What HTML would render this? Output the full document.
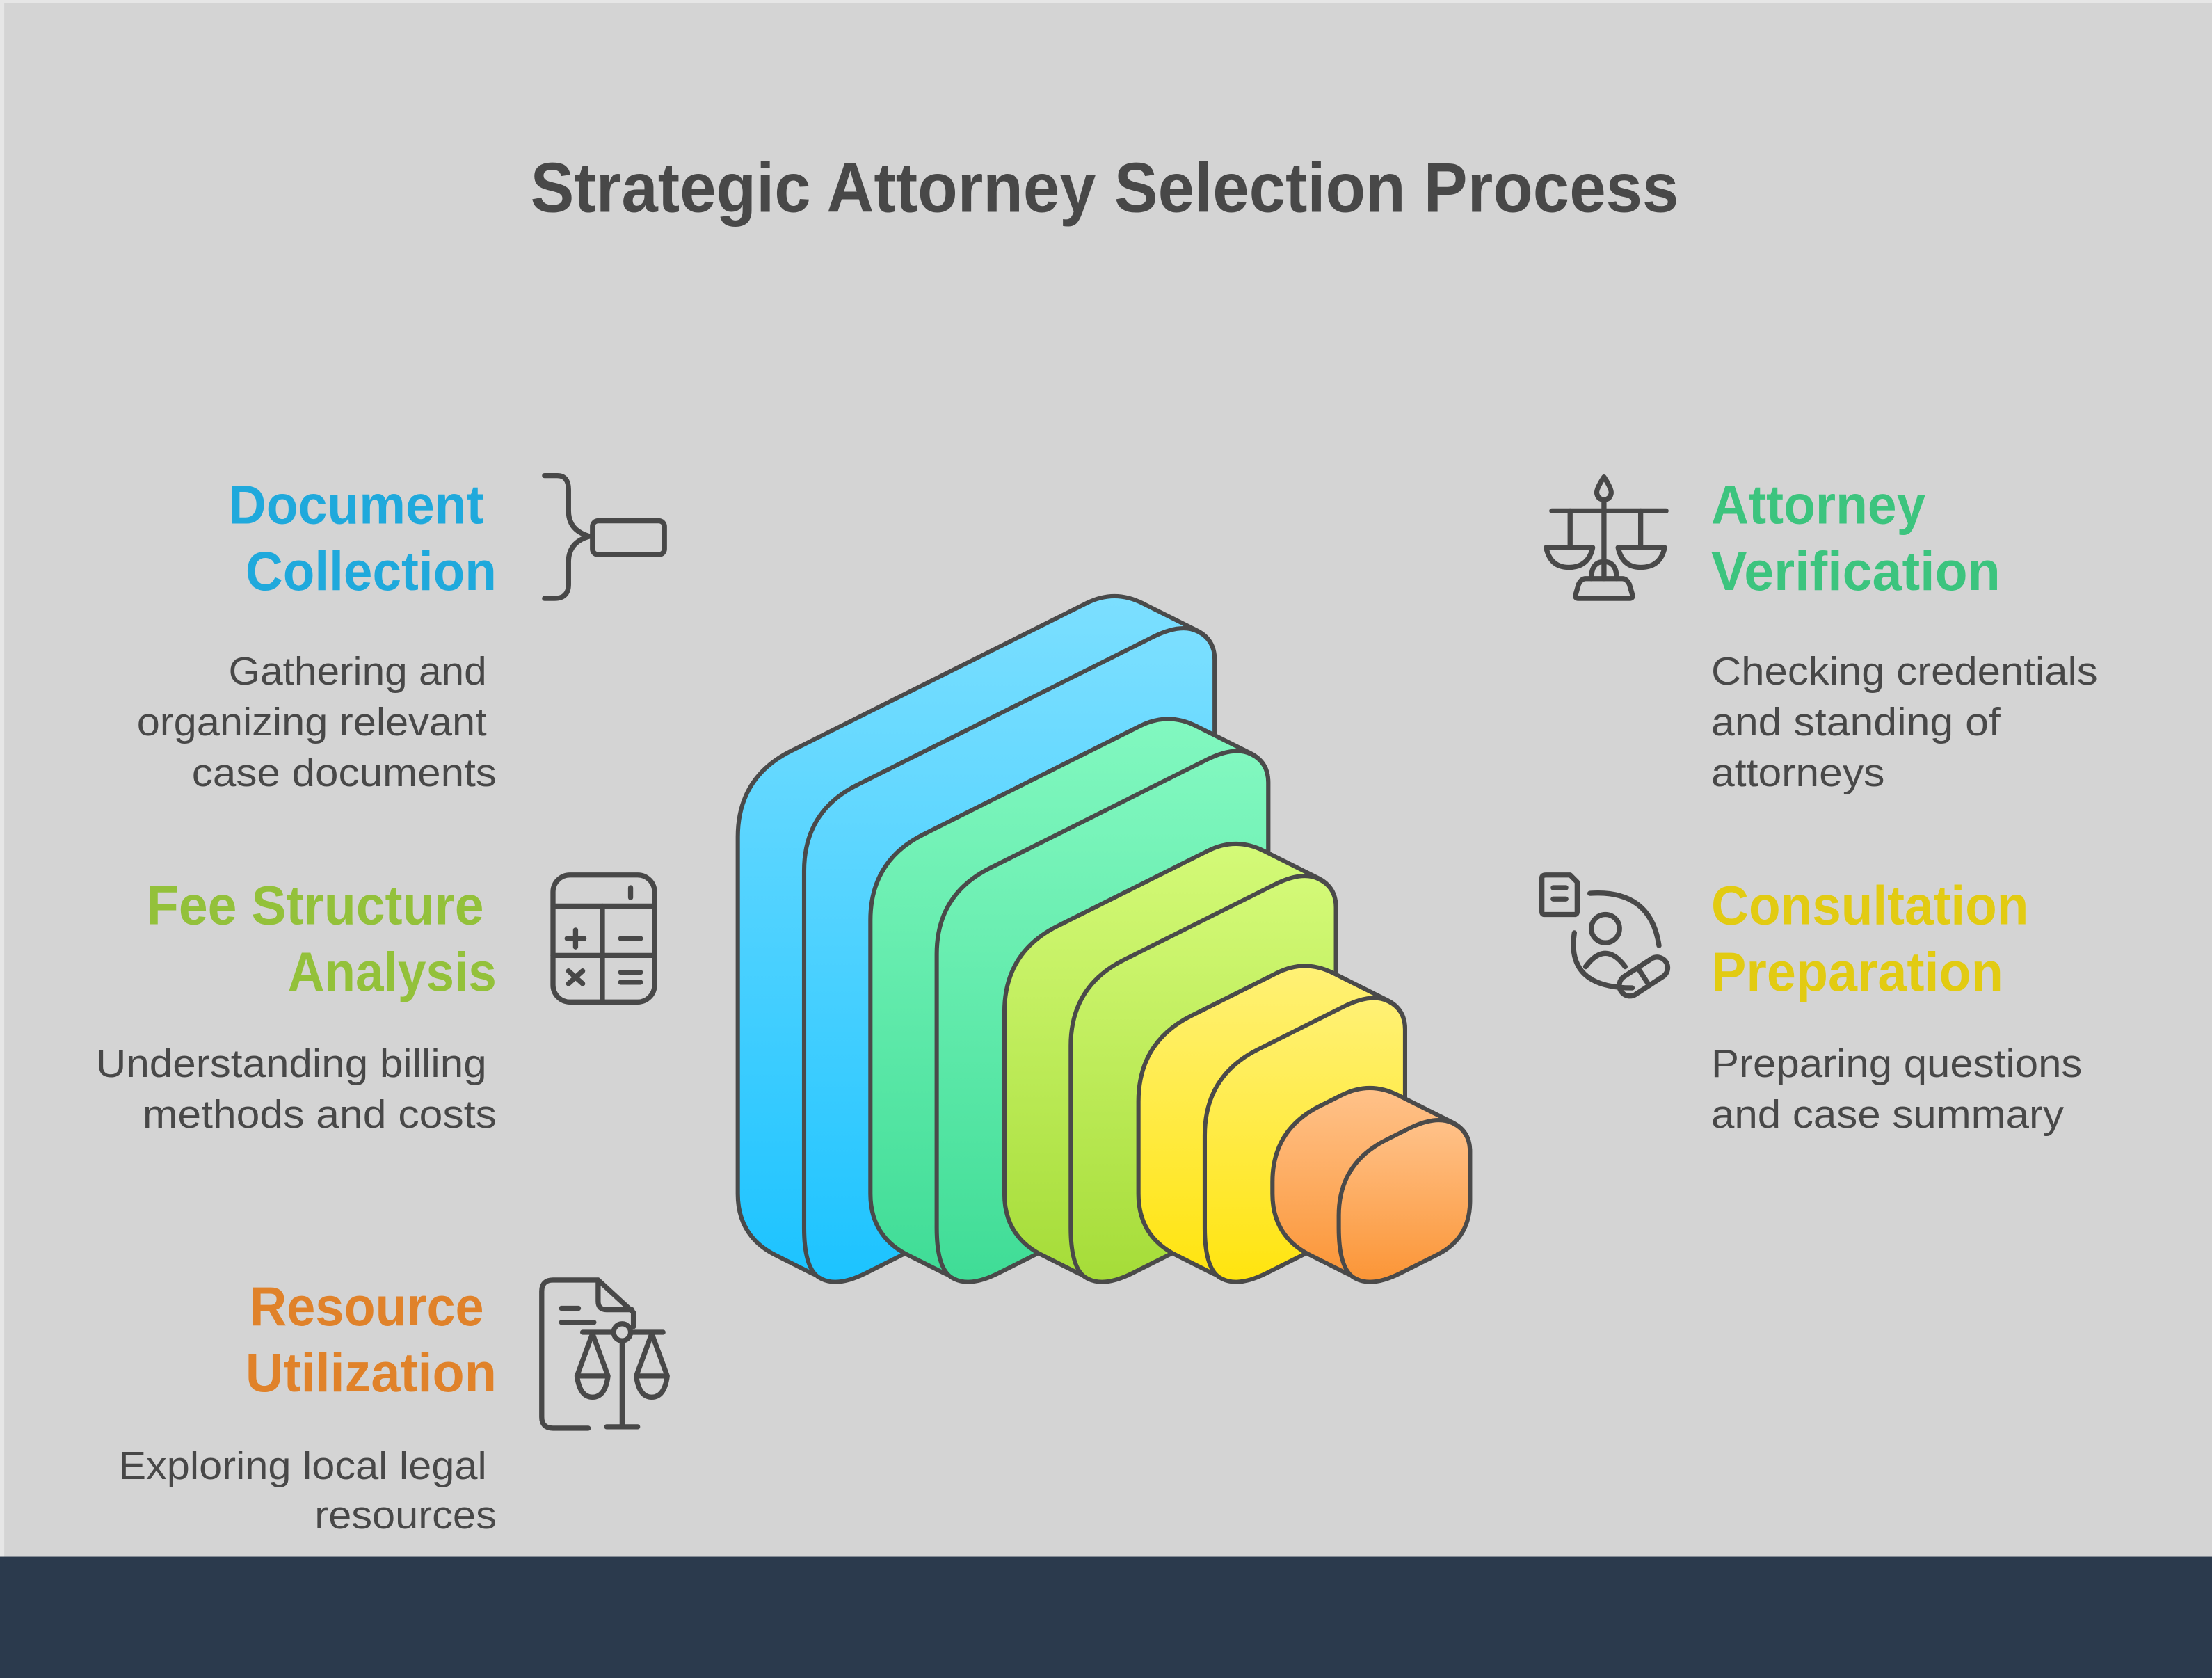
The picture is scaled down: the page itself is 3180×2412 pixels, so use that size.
<!DOCTYPE html>
<html><head><meta charset="utf-8"><style>
html,body{margin:0;padding:0;background:#d4d4d4;}
svg{display:block;}
text{font-family:"Liberation Sans",Arial,sans-serif;}
</style></head><body>
<svg id="s" width="3180" height="2412" viewBox="0 0 1568 1189" preserveAspectRatio="none" xmlns="http://www.w3.org/2000/svg">
<defs>
<linearGradient id="gb" x1="0" y1="0" x2="0" y2="1"><stop offset="0" stop-color="#7cdfff"/><stop offset="1" stop-color="#1cc3ff"/></linearGradient>
<linearGradient id="gg" x1="0" y1="0" x2="0" y2="1"><stop offset="0" stop-color="#82f8c0"/><stop offset="1" stop-color="#3fdc96"/></linearGradient>
<linearGradient id="gl" x1="0" y1="0" x2="0" y2="1"><stop offset="0" stop-color="#d4fa78"/><stop offset="1" stop-color="#a5dc38"/></linearGradient>
<linearGradient id="gy" x1="0" y1="0" x2="0" y2="1"><stop offset="0" stop-color="#fff176"/><stop offset="1" stop-color="#ffe40e"/></linearGradient>
<linearGradient id="go" x1="0" y1="0" x2="0" y2="1"><stop offset="0" stop-color="#ffc28a"/><stop offset="1" stop-color="#fb9536"/></linearGradient>
</defs>
<rect x="0" y="0" width="1568" height="1189" fill="#d4d4d4"/>
<rect x="0" y="0" width="3" height="1103" fill="#e6e6e6"/>
<rect x="0" y="0" width="1568" height="2" fill="#e6e6e6"/>
<rect x="0" y="1103" width="1568" height="86" fill="#2b3a4d"/>

<text x="783" y="150" font-size="50" font-weight="bold" fill="#484848" text-anchor="middle" textLength="814" lengthAdjust="spacingAndGlyphs">Strategic Attorney Selection Process</text>

<g id="blocks" stroke="#4a4a4a" stroke-width="3" stroke-linejoin="round"></g>

<g font-weight="bold" font-size="39" text-anchor="end" lengthAdjust="spacingAndGlyphs">
<text x="343" y="371" fill="#1fa9dc" textLength="181" lengthAdjust="spacingAndGlyphs">Document</text>
<text x="352" y="418" fill="#1fa9dc" textLength="178" lengthAdjust="spacingAndGlyphs">Collection</text>
<text x="343" y="655" fill="#93c13a" textLength="239" lengthAdjust="spacingAndGlyphs">Fee Structure</text>
<text x="352" y="702" fill="#93c13a" textLength="148" lengthAdjust="spacingAndGlyphs">Analysis</text>
<text x="343" y="939" fill="#e0822a" textLength="166" lengthAdjust="spacingAndGlyphs">Resource</text>
<text x="352" y="986" fill="#e0822a" textLength="178" lengthAdjust="spacingAndGlyphs">Utilization</text>
</g>
<g font-weight="bold" font-size="39" text-anchor="start">
<text x="1213" y="371" fill="#3cc47e" textLength="152" lengthAdjust="spacingAndGlyphs">Attorney</text>
<text x="1213" y="418" fill="#3cc47e" textLength="205" lengthAdjust="spacingAndGlyphs">Verification</text>
<text x="1213" y="655" fill="#e2cb12" textLength="225" lengthAdjust="spacingAndGlyphs">Consultation</text>
<text x="1213" y="702" fill="#e2cb12" textLength="207" lengthAdjust="spacingAndGlyphs">Preparation</text>
</g>
<g font-size="28" fill="#484848" text-anchor="end">
<text x="345" y="485" textLength="183" lengthAdjust="spacingAndGlyphs">Gathering and</text>
<text x="345" y="521" textLength="248" lengthAdjust="spacingAndGlyphs">organizing relevant</text>
<text x="352" y="557" textLength="216" lengthAdjust="spacingAndGlyphs">case documents</text>
<text x="345" y="763" textLength="277" lengthAdjust="spacingAndGlyphs">Understanding billing</text>
<text x="352" y="799" textLength="251" lengthAdjust="spacingAndGlyphs">methods and costs</text>
<text x="345" y="1048" textLength="261" lengthAdjust="spacingAndGlyphs">Exploring local legal</text>
<text x="352" y="1083" textLength="129" lengthAdjust="spacingAndGlyphs">resources</text>
</g>
<g font-size="28" fill="#484848" text-anchor="start">
<text x="1213" y="485" textLength="274" lengthAdjust="spacingAndGlyphs">Checking credentials</text>
<text x="1213" y="521" textLength="205" lengthAdjust="spacingAndGlyphs">and standing of</text>
<text x="1213" y="557" textLength="123" lengthAdjust="spacingAndGlyphs">attorneys</text>
<text x="1213" y="763" textLength="263" lengthAdjust="spacingAndGlyphs">Preparing questions</text>
<text x="1213" y="799" textLength="250" lengthAdjust="spacingAndGlyphs">and case summary</text>
</g>

<g fill="none" stroke="#484848" stroke-width="3.6" stroke-linecap="round" stroke-linejoin="round">
<!-- brace icon -->
<path d="M386 337 H395 Q403 337 403 347 V362 Q403 376 418 380 Q403 384 403 398 V414 Q403 424 393 424 H386"/>
<rect x="420" y="369" width="51" height="24" rx="4"/>
<!-- calculator -->
<rect x="392" y="620" width="72" height="90" rx="12"/>
<line x1="392" y1="642" x2="464" y2="642"/>
<line x1="392" y1="677" x2="464" y2="677"/>
<line x1="427" y1="642" x2="427" y2="710"/>
<line x1="447" y1="629" x2="447" y2="636"/>
<line x1="402" y1="665" x2="414" y2="665"/><line x1="408" y1="659" x2="408" y2="671"/>
<line x1="440" y1="665" x2="454" y2="665"/>
<line x1="403" y1="688" x2="413" y2="697"/><line x1="413" y1="688" x2="403" y2="697"/>
<line x1="440" y1="689" x2="454" y2="689"/><line x1="440" y1="696" x2="454" y2="696"/>
<!-- resource: doc + scale -->
<path d="M417 1012 H392 Q384 1012 384 1004 V915 Q384 907 392 907 H424 L449 930 V940"/>
<path d="M424 907 V922 Q424 928 430 928 H448"/>
<line x1="398" y1="927" x2="410" y2="927"/>
<line x1="398" y1="937" x2="421" y2="937"/>
<line x1="413" y1="944" x2="434" y2="944"/><line x1="448" y1="944" x2="470" y2="944"/>
<circle cx="441" cy="944" r="6"/>
<line x1="441" y1="950" x2="441" y2="1011"/>
<line x1="430" y1="1011" x2="452" y2="1011"/>
<path d="M420 945 L409 975 M420 945 L431 975 M409 975 H431 Q429 990 420 990 Q411 990 409 975"/>
<path d="M462 945 L451 975 M462 945 L473 975 M451 975 H473 Q471 990 462 990 Q453 990 451 975"/>
<!-- attorney scale -->
<path d="M1137 338 Q1131 347 1132 350 Q1133 354 1137 354 Q1141 354 1142 350 Q1143 347 1137 338 Z"/>
<line x1="1137" y1="354" x2="1137" y2="410"/>
<line x1="1100" y1="362" x2="1181" y2="362"/>
<line x1="1113" y1="362" x2="1113" y2="388"/><line x1="1163" y1="362" x2="1163" y2="388"/>
<path d="M1096 388 H1129 Q1126 402 1112 402 Q1099 402 1096 388 Z"/>
<path d="M1147 388 H1180 Q1177 402 1163 402 Q1150 402 1147 388 Z"/>
<path d="M1128 410 Q1128 398 1137 398 Q1146 398 1146 410"/>
<path d="M1124 410 H1150 Q1153 410 1155 414 L1157 421 Q1158 424 1155 424 H1119 Q1116 424 1117 421 L1119 414 Q1121 410 1124 410 Z"/>
<!-- consultation -->
<path d="M1096 620 H1113 L1118 625 V646 Q1118 648 1116 648 H1095 Q1093 648 1093 646 V622 Q1093 620 1096 620 Z"/>
<line x1="1101" y1="629" x2="1110" y2="629"/><line x1="1101" y1="637" x2="1110" y2="637"/>
<path d="M1110 627" />
<path d="M1127 633 Q1170 630 1176 670"/>
<path d="M1116 661 Q1110 700 1157 700"/>
<circle cx="1138" cy="658" r="10"/>
<path d="M1124 685 Q1138 666 1152 685"/>
<g transform="translate(1165 692) rotate(-33)"><rect x="-19" y="-7.5" width="38" height="15" rx="7.5"/><line x1="0" y1="-7.5" x2="0" y2="7.5"/></g>
</g>
</svg>
<script>
(function(){
 var ns="http://www.w3.org/2000/svg";
 var g=document.getElementById("blocks");
 function rpath(pts,rs){
  var n=pts.length,d="";
  for(var i=0;i<n;i++){
   var p=pts[i],a=pts[(i-1+n)%n],b=pts[(i+1)%n],r=rs[i];
   var la=Math.hypot(a[0]-p[0],a[1]-p[1]),lb=Math.hypot(b[0]-p[0],b[1]-p[1]);
   var ra=Math.min(r,la/2.05),rb=Math.min(r,lb/2.05);
   var p1=[p[0]+(a[0]-p[0])*ra/la,p[1]+(a[1]-p[1])*ra/la];
   var p2=[p[0]+(b[0]-p[0])*rb/lb,p[1]+(b[1]-p[1])*rb/lb];
   d+=(i==0?"M":"L")+p1[0].toFixed(2)+" "+p1[1].toFixed(2)+"Q"+p[0]+" "+p[1]+" "+p2[0].toFixed(2)+" "+p2[1].toFixed(2);
  }
  return d+"Z";
 }
 function hex(L,Ya,w,t,h,fill){
  var pts=[[L,Ya],[L+w,Ya-w/2],[L+w+t,Ya-w/2+t/2],[L+w+t,Ya-w/2+t/2+h],[L+t,Ya+t/2+h],[L,Ya+h]];
  var el=document.createElementNS(ns,"path");
  el.setAttribute("d",rpath(pts,[42,22,14,26,22,30]));
  el.setAttribute("fill",fill);
  g.appendChild(el);
 }
 var C=[
  [523,551,267,"url(#gb)"],
  [617,610,211,"url(#gg)"],
  [712,675,164,"url(#gl)"],
  [807,738.5,118,"url(#gy)"],
  [902,800.5,69,"url(#go)"]
 ];
 for(var i=0;i<C.length;i++){
  var c=C[i],L=c[0],Ya=c[1],w=c[2],h=876-Ya;
  hex(L,Ya,w,71,h,c[3]);
  hex(L+47,Ya+24,w,24,h,c[3]);
 }
})();
</script>
</body></html>
